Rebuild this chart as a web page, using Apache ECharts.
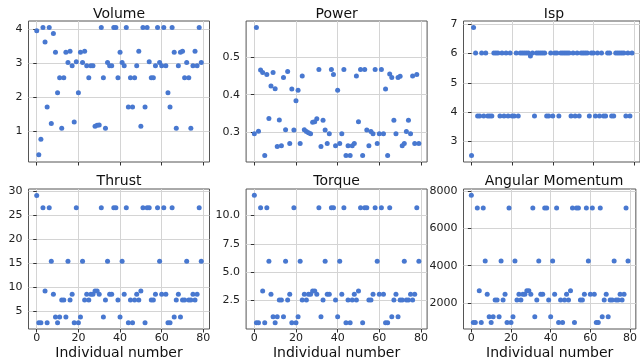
<!DOCTYPE html>
<html><head><meta charset="utf-8">
<script src="https://cdn.jsdelivr.net/npm/echarts@6/dist/echarts.min.js"></script>
<style>html,body{margin:0;padding:0;background:#fff}#c{width:640px;height:364px}</style>
</head><body><div id="c"></div>
<script>
// x values: individual index
const individuals = Array.from({length: 80}, (_, i) => i);
const xTicks = [0, 20, 40, 60, 80];

const titles = ['Volume', 'Power', 'Isp', 'Thrust', 'Torque', 'Angular Momentum'];

const volume = [3.95,0.30,0.76,4.05,3.62,1.71,4.05,1.22,3.87,3.32,
2.13,2.57,1.08,2.57,3.32,3.02,3.35,2.92,1.27,3.04,
2.13,3.32,3.02,3.35,2.92,2.57,2.92,2.92,1.14,1.17,
1.18,4.05,2.57,1.08,3.02,2.92,2.92,4.05,4.05,2.57,
3.32,3.02,2.92,4.05,1.71,2.57,1.71,2.57,2.92,3.35,
1.14,4.05,1.71,4.05,3.04,2.57,2.57,2.92,4.05,3.02,
2.92,4.05,2.92,2.13,1.71,4.05,3.32,1.08,2.92,3.32,
3.35,2.57,3.02,2.57,1.08,2.92,3.35,2.92,4.05,3.02];

const power = [0.296,0.579,0.303,0.466,0.459,0.238,0.454,0.337,0.423,0.459,
0.416,0.262,0.333,0.264,0.446,0.307,0.462,0.270,0.415,0.306,
0.384,0.412,0.270,0.450,0.307,0.302,0.299,0.296,0.327,0.328,
0.336,0.467,0.262,0.332,0.306,0.270,0.296,0.467,0.454,0.264,
0.412,0.270,0.296,0.467,0.238,0.264,0.238,0.264,0.270,0.450,
0.328,0.467,0.238,0.467,0.306,0.264,0.302,0.296,0.467,0.270,
0.296,0.467,0.296,0.415,0.238,0.455,0.446,0.332,0.296,0.446,
0.449,0.264,0.270,0.302,0.332,0.296,0.450,0.270,0.454,0.270];

const isp = [2.5,6.9,6.02,3.86,3.86,6.02,3.86,6.02,3.86,3.86,
3.86,6.02,6.02,6.02,3.86,6.02,3.86,6.02,3.86,6.02,
3.86,3.86,6.02,3.86,6.02,6.02,6.02,6.02,6.02,5.92,
6.02,3.86,6.02,6.02,6.02,6.02,6.02,3.86,3.86,6.02,
3.86,6.02,6.02,3.86,6.02,6.02,6.02,6.02,6.02,3.86,
6.02,3.86,6.02,3.86,6.02,6.02,6.02,6.02,3.86,6.02,
6.02,3.86,6.02,3.86,6.02,3.86,3.86,6.02,6.02,3.86,
3.86,6.02,6.02,6.02,6.02,6.02,3.86,6.02,3.86,6.02];

const thrust = [29.1,2.6,2.6,26.5,9.2,2.6,26.5,15.4,8.5,3.8,
2.6,3.8,7.3,7.3,3.8,15.4,7.3,8.5,2.6,26.5,
2.6,3.8,15.4,7.3,8.5,7.3,8.5,8.5,9.2,9.2,
8.5,26.5,3.8,7.3,15.4,8.5,8.5,26.5,26.5,7.3,
3.8,15.4,8.5,26.5,2.6,7.3,2.6,7.3,8.5,7.3,
9.2,26.5,2.6,26.5,26.5,7.3,7.3,8.5,26.5,15.4,
8.5,26.5,8.5,2.6,2.6,26.5,3.8,7.3,8.5,3.8,
7.3,7.3,15.4,7.3,7.3,8.5,7.3,8.5,26.5,15.4];

const torque = [11.76,0.56,0.56,10.66,3.35,0.56,10.66,5.97,3.05,1.07,
0.56,1.07,2.55,2.55,1.07,5.97,2.55,3.05,0.56,10.66,
0.56,1.07,5.97,2.55,3.05,2.55,3.05,3.05,3.35,3.35,
3.05,10.66,1.07,2.55,5.97,3.05,3.05,10.66,10.66,2.55,
1.07,5.97,3.05,10.66,0.56,2.55,0.56,2.55,3.05,2.55,
3.35,10.66,0.56,10.66,10.66,2.55,2.55,3.05,10.66,5.97,
3.05,10.66,3.05,0.56,0.56,10.66,1.07,2.55,3.05,1.07,
2.55,2.55,5.97,2.55,2.55,3.05,2.55,3.05,10.66,5.97];

const angularMomentum = [7760,970,970,7090,2660,970,7090,4250,2480,1280,
970,1280,2170,2170,1280,4250,2170,2480,970,7090,
970,1280,4250,2170,2480,2170,2480,2480,2660,2660,
2480,7090,1280,2170,4250,2480,2480,7090,7090,2170,
1280,4250,2480,7090,970,2170,970,2170,2480,2170,
2660,7090,970,7090,7090,2170,2170,2480,7090,4250,
2480,7090,2480,970,970,7090,1280,2170,2480,1280,
2170,2170,4250,2170,2170,2480,2170,2480,7090,4250];

const yTicks = [[1,2,3,4],[0.3,0.4,0.5],[3,4,5,6,7],[5,10,15,20,25,30],[2.5,5,7.5,10],[2000,4000,6000,8000]];
const yRange = [[0.09,4.24],[0.221,0.596],[2.28,7.12],[1.275,30.43],[0.0,12.32],[620,8100]];
const yDecimals = [0,1,0,0,1,0];
const seriesValues = [volume, power, isp, thrust, torque, angularMomentum];
const xLabel = 'Individual number';

// layout
const colLeft = [28.5, 246.1, 463.5];
const rowTop = [21, 189];
const plotW = 181, rowH = [141, 140];
const FONT = 'DejaVu Sans';
const BLUE = '#4878d0';

const grids = [], xAxes = [], yAxes = [], series = [], graphics = [];
for (let k = 0; k < 6; k++) {
  const r = Math.floor(k / 3), c = k % 3;
  grids.push({left: colLeft[c], top: rowTop[r], width: plotW, height: rowH[r],
    show: true, borderColor: '#555', borderWidth: 1, backgroundColor: 'transparent', containLabel: false});
  xAxes.push({type: 'value', gridIndex: k, min: -3.95, max: 82.95,
    axisLine: {show: false},
    axisTick: {show: true, length: 3.5, lineStyle: {color: '#333', width: 1}, customValues: xTicks},
    axisLabel: {show: r === 1, customValues: xTicks, fontSize: 11, color: '#222', margin: 4, fontFamily: FONT},
    splitLine: {show: true, lineStyle: {color: '#d4d4d4', width: 1}},
    name: r === 1 ? xLabel : '', nameLocation: 'middle', nameGap: 17,
    nameTextStyle: {fontSize: 14, color: '#111', fontFamily: FONT}});
  const dec = yDecimals[k];
  yAxes.push({type: 'value', gridIndex: k, min: yRange[k][0], max: yRange[k][1],
    axisLine: {show: false},
    axisTick: {show: true, length: 3.5, lineStyle: {color: '#333', width: 1}, customValues: yTicks[k]},
    axisLabel: {customValues: yTicks[k], fontSize: 11, color: '#222', margin: 6, fontFamily: FONT,
      formatter: v => Number(v).toFixed(dec)},
    splitLine: {show: true, lineStyle: {color: '#d4d4d4', width: 1}}});
  const vals = seriesValues[k];
  series.push({type: 'scatter', xAxisIndex: k, yAxisIndex: k, symbolSize: 5,
    itemStyle: {color: BLUE, opacity: 1},
    data: individuals.map((x, i) => [x, vals[i]])});
  graphics.push({type: 'text', x: colLeft[c] + plotW / 2, y: r === 0 ? 7 : 174,
    style: {text: titles[k], font: '14px "DejaVu Sans"', fill: '#111', textAlign: 'center', textVerticalAlign: 'top'}});
}

const chart = echarts.init(document.getElementById('c'), null, {renderer: 'canvas'});
chart.setOption({
  animation: false,
  textStyle: {fontFamily: FONT},
  grid: grids, xAxis: xAxes, yAxis: yAxes, series: series, graphic: graphics
});
</script></body></html>
